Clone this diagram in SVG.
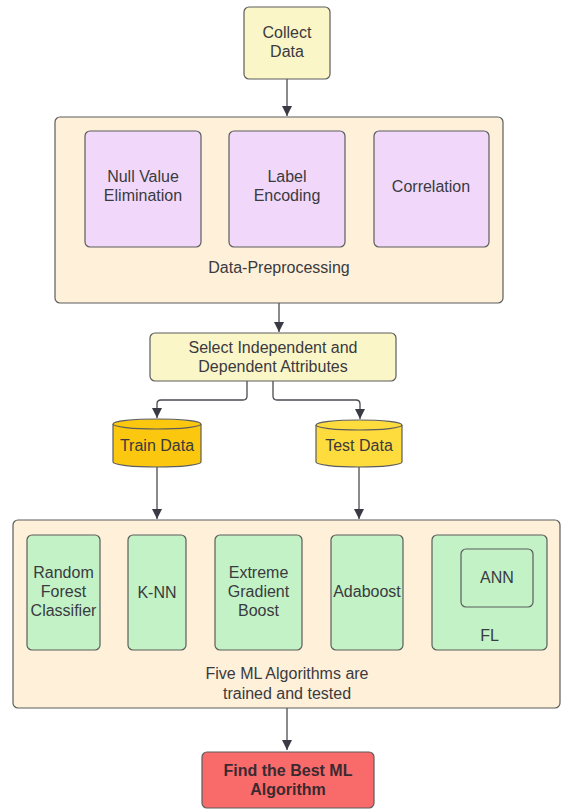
<svg xmlns="http://www.w3.org/2000/svg" width="561" height="810" viewBox="0 0 561 810">
<defs>
<style>
text{font-family:"Liberation Sans",Arial,sans-serif;font-size:16px;fill:#3a3a40;text-anchor:middle;}
.b{stroke:#5c5c5c;stroke-width:1.2;}
.y{fill:#FAF6C8;}
.c{fill:#FEF0D9;}
.p{fill:#F1D8FB;}
.g{fill:#C2F2C6;}
.e{stroke:#4a4a52;stroke-width:1.3;fill:none;}
.bold{font-weight:bold;fill:#3a2a30;}
</style>
<marker id="ah" viewBox="0 0 10 10" refX="10" refY="5" markerWidth="10" markerHeight="10" markerUnits="userSpaceOnUse" orient="auto">
<path d="M0,0 L10,5 L0,10 z" fill="#3a3a44"/>
</marker>
</defs>
<rect width="561" height="810" fill="#ffffff"/>

<g id="connectors">
<path class="e" d="M287,79 V116" marker-end="url(#ah)"/>
<path class="e" d="M279,303 V332" marker-end="url(#ah)"/>
<path class="e" d="M247,381 V396 Q247,400 243,400 H161 Q157,400 157,404 V418" marker-end="url(#ah)"/>
<path class="e" d="M273,381 V396 Q273,400 277,400 H356 Q360,400 360,404 V419" marker-end="url(#ah)"/>
<path class="e" d="M157,467 V519" marker-end="url(#ah)"/>
<path class="e" d="M359,467 V519" marker-end="url(#ah)"/>
<path class="e" d="M287,708 V750" marker-end="url(#ah)"/>
</g>

<g id="collect">
<rect class="b y" x="244" y="7" width="86" height="72" rx="5"/>
<text x="287" y="38">Collect</text>
<text x="287" y="57">Data</text>
</g>

<g id="preprocessing">
<rect class="b c" x="55" y="117" width="448" height="186" rx="5"/>
<text x="279" y="273">Data-Preprocessing</text>
</g>
<g id="null">
<rect class="b p" x="85" y="131" width="116" height="116" rx="5"/>
<text x="143" y="182">Null Value</text>
<text x="143" y="201">Elimination</text>
</g>
<g id="label">
<rect class="b p" x="229" y="131" width="116" height="116" rx="5"/>
<text x="287" y="182">Label</text>
<text x="287" y="201">Encoding</text>
</g>
<g id="correlation">
<rect class="b p" x="374" y="131" width="115" height="116" rx="5"/>
<text x="431" y="192">Correlation</text>
</g>

<g id="select">
<rect class="b y" x="150" y="333" width="246" height="48" rx="5"/>
<text x="273" y="353">Select Independent and</text>
<text x="273" y="372">Dependent Attributes</text>
</g>

<g id="train">
<path class="b" fill="#FBC70F" d="M113,424 V462 A44,5 0 0 0 201,462 V424"/>
<ellipse class="b" fill="#FBC70F" cx="157" cy="424" rx="44" ry="5"/>
<text x="157" y="451">Train Data</text>
</g>
<g id="test">
<path class="b" fill="#FEDC3D" d="M316,425 V462 A43,5 0 0 0 402,462 V425"/>
<ellipse class="b" fill="#FEDC3D" cx="359" cy="425" rx="43" ry="5"/>
<text x="359" y="451">Test Data</text>
</g>

<g id="ml">
<rect class="b c" x="13" y="520" width="547" height="188" rx="5"/>
<text x="287" y="679">Five ML Algorithms are</text>
<text x="287" y="699">trained and tested</text>
</g>
<g id="rf">
<rect class="b g" x="27" y="535" width="73" height="115" rx="5"/>
<text x="63.5" y="578">Random</text>
<text x="63.5" y="597">Forest</text>
<text x="63.5" y="616">Classifier</text>
</g>
<g id="knn">
<rect class="b g" x="128" y="535" width="58" height="115" rx="5"/>
<text x="157" y="598">K-NN</text>
</g>
<g id="xgb">
<rect class="b g" x="215" y="535" width="87" height="115" rx="5"/>
<text x="258.5" y="578">Extreme</text>
<text x="258.5" y="597">Gradient</text>
<text x="258.5" y="616">Boost</text>
</g>
<g id="adaboost">
<rect class="b g" x="331" y="535" width="72" height="115" rx="5"/>
<text x="367" y="597">Adaboost</text>
</g>
<g id="fl">
<rect class="b g" x="432" y="535" width="115" height="115" rx="5"/>
<text x="489.5" y="641">FL</text>
</g>
<g id="ann">
<rect class="b g" x="461" y="549" width="72" height="58" rx="5"/>
<text x="497" y="583">ANN</text>
</g>

<g id="best">
<rect class="b" fill="#F96B6B" x="202" y="752" width="172" height="56" rx="5"/>
<text class="bold" x="288" y="776">Find the Best ML</text>
<text class="bold" x="288" y="795">Algorithm</text>
</g>
</svg>
